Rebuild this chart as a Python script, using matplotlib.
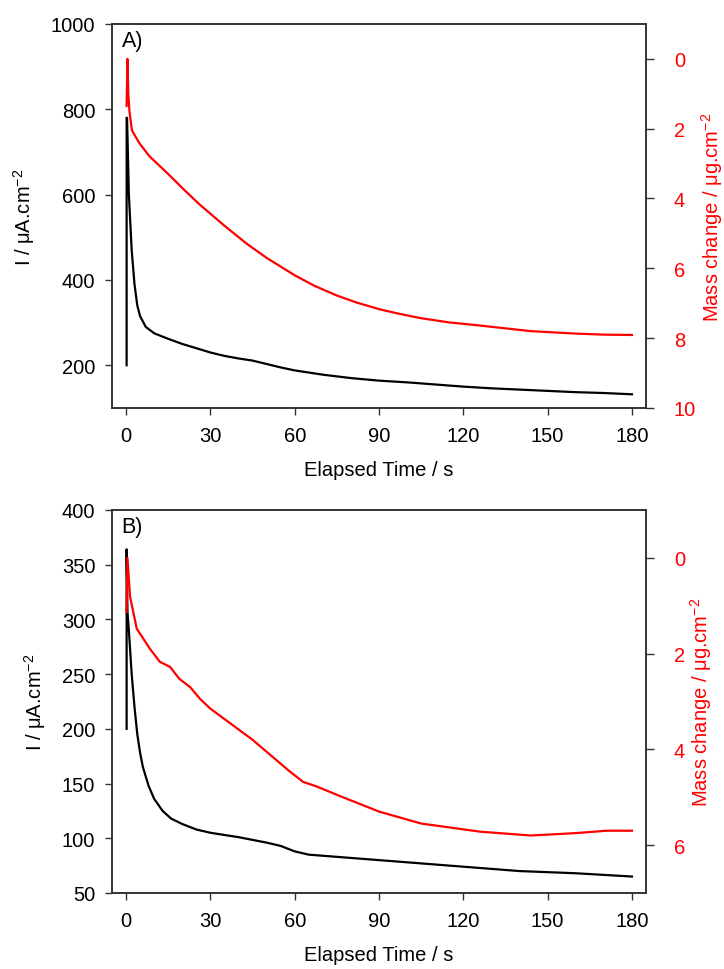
import matplotlib
matplotlib.use("Agg")
import matplotlib.pyplot as plt

# ---- panel A: current (left axis) and mass change (right axis, inverted) ----
a_time_i = [0.2, 0.2, 0.35, 1.0, 2.0, 3.0, 4.0, 5.0, 7.0, 10, 15, 20, 25, 30,
            35, 40, 45, 50, 55, 60, 70, 80, 90, 100, 110, 120, 130, 140, 150,
            160, 170, 180]
a_current = [200, 780, 780, 600, 470, 390, 340, 315, 290, 275, 262, 250, 240,
             230, 222, 216, 211, 203, 195, 188, 178, 170, 164, 160, 155, 150,
             146, 143, 140, 137, 135, 132]

a_time_m = [0.2, 0.5, 0.8, 1.2, 2.1, 4.6, 8.2, 15, 20, 26, 35, 43, 50, 60,
            67, 75, 82, 90, 97, 105, 115, 126, 144, 160, 170, 180]
a_mass = [1.35, 0.0, 1.0, 1.5, 2.05, 2.4, 2.78, 3.3, 3.7, 4.16, 4.78, 5.3,
          5.7, 6.2, 6.5, 6.78, 6.98, 7.17, 7.3, 7.43, 7.55, 7.64, 7.8, 7.87,
          7.9, 7.91]

# ---- panel B ----
b_time_i = [0.2, 0.2, 0.5, 1.0, 2.0, 3.0, 4.0, 5.0, 6.0, 8.0, 10, 13, 16, 20,
            25, 30, 40, 50, 55, 60, 65, 70, 80, 90, 100, 120, 140, 160, 180]
b_current = [200, 364, 307, 290, 250, 220, 195, 178, 165, 148, 136, 125, 118,
             113, 108, 105, 101, 96, 93, 88, 85, 84, 82, 80, 78, 74, 70, 68,
             65]

b_time_m = [0.2, 0.5, 1.4, 3.8, 8.5, 12, 15.7, 19, 22.8, 26.4, 30, 45, 58,
            63, 68, 75, 90, 105, 126, 144, 160, 171, 180]
b_mass = [1.13, 0.0, 0.8, 1.48, 1.9, 2.17, 2.28, 2.53, 2.7, 2.95, 3.15, 3.8,
          4.45, 4.68, 4.78, 4.95, 5.3, 5.55, 5.72, 5.8, 5.75, 5.7, 5.7]

x_ticks = [0, 30, 60, 90, 120, 150, 180]

plt.rcParams.update({
    "font.family": ["Liberation Sans", "DejaVu Sans"],
    "mathtext.fontset": "custom",
    "mathtext.rm": "Liberation Sans",
    "mathtext.it": "Liberation Sans",
    "font.size": 14.5,
})

fig = plt.figure(figsize=(7.24, 9.70), dpi=100)

panels = [
    dict(rect=[0.1547, 0.5784, 0.7376, 0.3959], t_i=a_time_i, cur=a_current,
         t_m=a_time_m, mass=a_mass, ylim=(100, 1000),
         yticks=[200, 400, 600, 800, 1000], ylim2=(10, -1),
         yticks2=[0, 2, 4, 6, 8, 10], tag="A)"),
    dict(rect=[0.1547, 0.0784, 0.7376, 0.3948], t_i=b_time_i, cur=b_current,
         t_m=b_time_m, mass=b_mass, ylim=(50, 400),
         yticks=[50, 100, 150, 200, 250, 300, 350, 400], ylim2=(7, -1),
         yticks2=[0, 2, 4, 6], tag="B)"),
]

spine_col = "#333333"
for p in panels:
    ax = fig.add_axes(p["rect"])
    ax2 = ax.twinx()

    ax.plot(p["t_i"], p["cur"], color="black", lw=1.6, zorder=3)
    ax2.plot(p["t_m"], p["mass"], color="red", lw=1.6)

    ax.set_xlim(-5, 185)
    ax.set_ylim(*p["ylim"])
    ax.set_xticks(x_ticks)
    ax.set_yticks(p["yticks"])
    ax2.set_ylim(*p["ylim2"])
    ax2.set_yticks(p["yticks2"])

    ax.tick_params(direction="out", length=5, width=1, color=spine_col,
                   top=False, right=False)
    ax.tick_params(axis="x", pad=8)
    ax.tick_params(axis="y", pad=7)
    ax2.tick_params(direction="out", length=6, width=1, color=spine_col,
                    labelcolor="red", pad=14)
    for a in (ax, ax2):
        for s in a.spines.values():
            s.set_color(spine_col)
            s.set_linewidth(1.2)

    ax.set_xlabel("Elapsed Time / s", labelpad=11)
    ax.set_ylabel("I / μA.cm$^{-2}$", labelpad=10)
    ax2.set_ylabel("Mass change / μg.cm$^{-2}$", color="red", labelpad=2)
    ax.text(0.018, 0.985, p["tag"], transform=ax.transAxes, ha="left",
            va="top", fontsize=15.5)

fig.savefig("out.png", dpi=100)
